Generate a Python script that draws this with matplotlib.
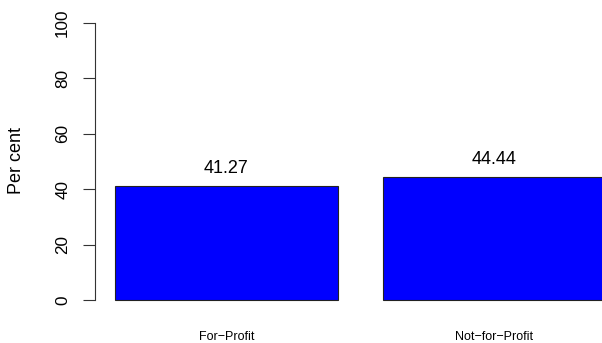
import matplotlib
matplotlib.use("Agg")
import matplotlib.pyplot as plt
import matplotlib.transforms as mtransforms

categories = ["For\u2212Profit", "Not\u2212for\u2212Profit"]
values = [41.27, 44.44]
yticks = [0, 20, 40, 60, 80, 100]

W, H, DPI = 602, 343, 100
plt.rcParams['font.family'] = ['Liberation Sans', 'DejaVu Sans']

fig = plt.figure(figsize=(W / DPI, H / DPI), dpi=DPI)
ax = fig.add_axes([0, 0, 1, 1])
ax.patch.set_visible(False)

# R barplot geometry: width 1, space 0.2
x0_px, unit_px = 70.4, 223.0
y0_px, y100_px = 300.0, 23.0
ppu = (y0_px - y100_px) / 100.0
ax.set_xlim(-x0_px / unit_px, (W - x0_px) / unit_px)
ax.set_ylim(-(H - y0_px) / ppu, 100 + y100_px / ppu)

lefts = [0.2 + i * 1.2 for i in range(len(values))]
centers = [l + 0.5 for l in lefts]
ax.bar(centers, values, width=1.0, color='#0000FF', edgecolor='#222222', linewidth=0.8)

for c, v in zip(centers, values):
    ax.annotate(f"{v:.2f}", (c, v), xytext=(0, 12.4), textcoords='offset points',
                ha='center', va='center', fontsize=13)

trans = mtransforms.blended_transform_factory(ax.transData, fig.transFigure)
for c, lab in zip(centers, categories):
    ax.text(c, 1 - 336.5 / H, lab, transform=trans, ha='center', va='center', fontsize=9)

for s in ['top', 'right', 'bottom']:
    ax.spines[s].set_visible(False)
ax.spines['left'].set_position(('data', (95 - x0_px) / unit_px))
ax.spines['left'].set_bounds(0, 100)
ax.spines['left'].set_color('#333333')
ax.set_xticks([])
ax.set_yticks(yticks)
ax.set_yticklabels([str(t) for t in yticks], rotation=90, va='center', fontsize=12.3)
ax.tick_params(axis='y', direction='out', length=8.6, width=0.8, color='#333333', pad=9.3)

fig.text(16.8 / W, 1 - 160 / H, "Per cent", rotation=90, ha='center', va='center', fontsize=13)

fig.savefig("out.png", dpi=DPI)
